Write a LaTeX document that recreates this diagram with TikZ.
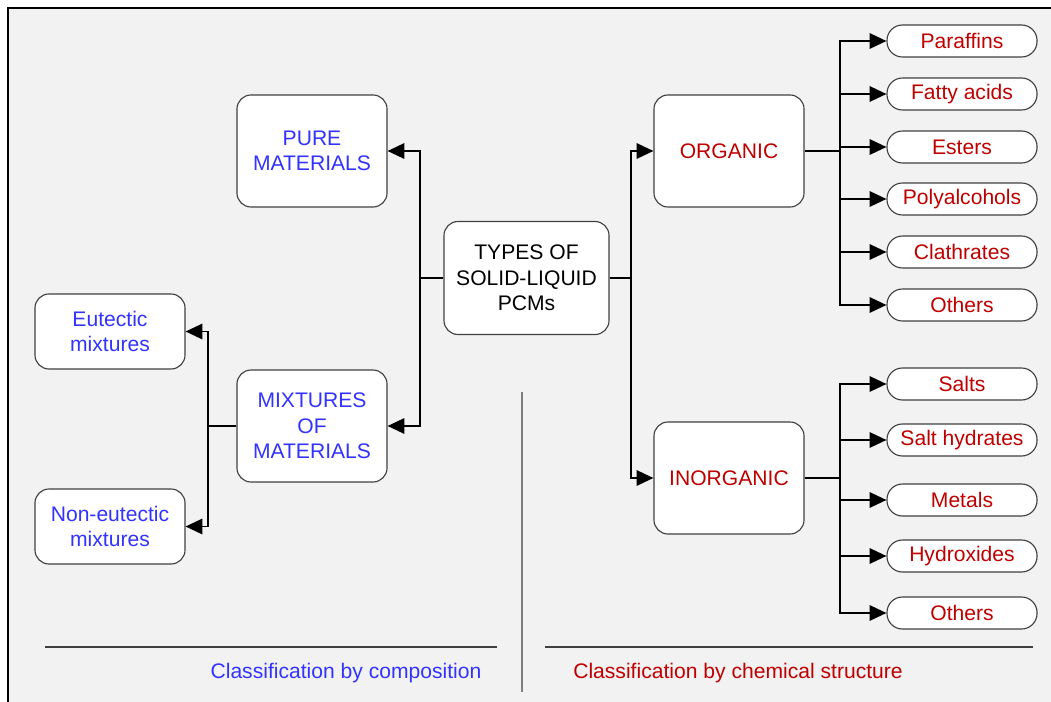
\documentclass[tikz,border=0pt]{standalone}
\usepackage{fontspec}
\setmainfont{Liberation Sans}
\usepackage{xcolor}
\usetikzlibrary{
  arrows.meta,
  positioning,
  calc
}
\definecolor{compblue}{RGB}{51,51,255}
\definecolor{chemred}{RGB}{192,0,0}
\definecolor{panelgray}{RGB}{242,242,242}
\definecolor{edgegray}{RGB}{64,64,64}

\begin{document}
\begin{tikzpicture}[
      x=0.025cm, y=-0.025cm,
      every node/.style={font=\fontsize{15}{18.2}\selectfont},
      caixa/.style={draw=edgegray, line width=0.8pt, fill=white, rounded corners=10pt, minimum width=3.75cm, minimum height=2.8cm, align=center, inner sep=2pt},
      pequena/.style={caixa, minimum height=1.875cm},
      folha/.style={caixa, minimum height=0.8cm, rounded corners=11pt, text=chemred},
      seta/.style={-{Triangle[length=12pt,width=11pt]}, line width=1.4pt, black},
      linha/.style={line width=1.4pt, black},
      divisa/.style={line width=1pt, edgegray}
  ]
      % Fundo e moldura
      \useasboundingbox (0,0) rectangle (1051,702);
      \fill[white] (0,0) rectangle (1051,702);
      \fill[panelgray] (8,8) rectangle (1051,702);
      \draw[line width=1pt, black] (8,702) -- (8,8) -- (1051,8);

      % Centro
      \node[caixa, minimum width=4.125cm, minimum height=2.825cm] (tipos) at (526.5,278) {TYPES OF\\SOLID-LIQUID\\PCMs};

      % Lado esquerdo: composicao
      \node[caixa, text=compblue] (pura) at (312,151) {PURE\\MATERIALS};
      \node[caixa, text=compblue] (mist) at (312,426) {MIXTURES\\OF\\MATERIALS};
      \node[pequena, text=compblue] (eut) at (110,331.5) {Eutectic\\mixtures};
      \node[pequena, text=compblue] (neut) at (110,526.5) {Non-eutectic\\mixtures};

      % Lado direito: estrutura quimica
      \node[caixa, text=chemred] (org) at (729,151) {ORGANIC};
      \node[caixa, text=chemred] (inorg) at (729,478) {INORGANIC};

      \node[folha] (paraf) at (962,41) {Paraffins};
      \node[folha] (graxos) at (962,94) {Fatty acids};
      \node[folha] (ester) at (962,147) {Esters};
      \node[folha] (poli) at (962,199) {Polyalcohols};
      \node[folha] (clat) at (962,252) {Clathrates};
      \node[folha] (outrosA) at (962,305) {Others};

      \node[folha] (sais) at (962,384) {Salts};
      \node[folha] (hidrat) at (962,440) {Salt hydrates};
      \node[folha] (metais) at (962,500) {Metals};
      \node[folha] (hidrox) at (962,556) {Hydroxides};
      \node[folha] (outrosB) at (962,613) {Others};

      % Pontos de ramificacao
      \coordinate (jTE) at (420,278);
      \coordinate (jTD) at (631,278);
      \coordinate (jM) at (208,426);
      \coordinate (jO) at (840,151);
      \coordinate (jI) at (840,478);

      % Fluxos/Setas
      \draw[linha] (tipos.west) -- (jTE);
      \draw[seta] (jTE) |- (pura.east);
      \draw[seta] (jTE) |- (mist.east);

      \draw[linha] (tipos.east) -- (jTD);
      \draw[seta] (jTD) |- (org.west);
      \draw[seta] (jTD) |- (inorg.west);

      \draw[linha] (mist.west) -- (jM);
      \draw[seta] (jM) |- (eut.east);
      \draw[seta] (jM) |- (neut.east);

      \draw[linha] (org.east) -- (jO);
      \draw[seta] (jO) |- (paraf.west);
      \draw[seta] (jO) |- (graxos.west);
      \draw[seta] (jO) |- (ester.west);
      \draw[seta] (jO) |- (poli.west);
      \draw[seta] (jO) |- (clat.west);
      \draw[seta] (jO) |- (outrosA.west);

      \draw[linha] (inorg.east) -- (jI);
      \draw[seta] (jI) |- (sais.west);
      \draw[seta] (jI) |- (hidrat.west);
      \draw[seta] (jI) |- (metais.west);
      \draw[seta] (jI) |- (hidrox.west);
      \draw[seta] (jI) |- (outrosB.west);

      % Divisoes e legendas
      \draw[divisa] (45,647) -- (497,647);
      \draw[divisa] (545,647) -- (1033,647);
      \draw[divisa, gray] (522,392) -- (522,692);
      \node[text=compblue] (legA) at (346,673) {Classification by composition};
      \node[text=chemred] (legB) at (738,673) {Classification by chemical structure};
  \end{tikzpicture}
\end{document}
